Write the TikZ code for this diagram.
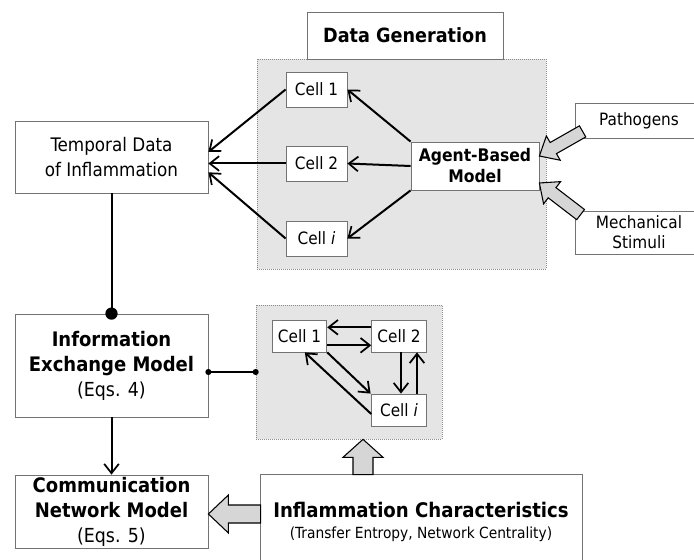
\documentclass[tikz,border=0pt]{standalone}
\usepackage{fontspec}
\setmainfont{DejaVu Sans Condensed}
\usetikzlibrary{arrows.meta,calc}

% block arrow: #1 tail, #2 tip, #3 shaft half width, #4 head half width, #5 head length
\newcommand\blockarrow[5]{%
  \coordinate (ba-neck) at ($(#2)!#5!(#1)$);
  \filldraw[fatarrow] ($(#1)!#3!90:(#2)$) -- ($(ba-neck)!#3!-90:(#1)$)
    -- ($(ba-neck)!#4!-90:(#1)$) -- (#2) -- ($(ba-neck)!#4!90:(#1)$)
    -- ($(ba-neck)!#3!90:(#1)$) -- ($(#1)!#3!-90:(#2)$) -- cycle;}
\newcommand\eqline{\fontsize{14.5}{18.75}\selectfont}

\tikzset{
  box/.style={draw=black!55, line width=0.6pt, fill=white, align=center,
    inner sep=0pt, font=\fontsize{12.75}{18.75}\selectfont},
  cellbox/.style={box, minimum width=45.75pt, minimum height=26.25pt},
  smallcell/.style={box, minimum width=41pt, minimum height=24pt},
  panel/.style={draw=black!45, densely dotted, line width=0.5pt, fill=black!10,
    inner sep=0pt},
  link/.style={line width=1.5pt, -{Straight Barb[length=7pt,width=11pt,line width=1.3pt]}},
  plain/.style={line width=1.5pt},
  fatarrow/.style={draw=black, line width=0.8pt, fill=black!16, line join=miter},
}

\begin{document}
\begin{tikzpicture}[x=0.75pt,y=-0.75pt]
\clip (0,0) rectangle (694,560);
\fill[white] (0,0) rectangle (694,560);

% upper group: data generation
\node[panel, minimum width=216.75pt, minimum height=157.5pt] (panelA) at (401.5,164) {};
\node[box, minimum width=147pt, minimum height=35.25pt, font=\bfseries\fontsize{14.7}{17}\selectfont]
  (datagen) at (405,35.5) {Data Generation};
\node[cellbox] (cellA1) at (316.5,89.5) {Cell 1};
\node[cellbox] (cellA2) at (316.5,163.5) {Cell 2};
\node[cellbox] (cellAi) at (316.5,238.5) {Cell \textit{i}};
\node[box, minimum width=96pt, minimum height=36pt, font=\bfseries\fontsize{13}{15.75}\selectfont]
  (abm) at (475,166) {Agent-Based\\Model};
\node[box, minimum width=96pt, minimum height=26.25pt] (pathogens) at (639,120.5) {Pathogens};
\node[box, minimum width=96pt, minimum height=32.25pt, font=\fontsize{12.75}{15}\selectfont]
  (mech) at (639,232.5) {Mechanical\\Stimuli};
\node[box, minimum width=144.75pt, minimum height=54pt, font=\fontsize{14}{18.75}\selectfont]
  (temporal) at (111.5,157) {Temporal Data\\of Inflammation};

% model boxes on the left
\node[box, minimum width=144.75pt, minimum height=77.25pt, font=\bfseries\fontsize{15}{18.75}\selectfont]
  (iem) at (111.5,365.5) {Information\\Exchange Model\\{\mdseries\eqline (Eqs. 4)}};
\node[box, minimum width=144.75pt, minimum height=54.75pt, font=\bfseries\fontsize{15}{18.75}\selectfont]
  (cnm) at (111.5,511.5) {Communication\\Network Model\\{\mdseries\eqline (Eqs. 5)}};

% lower group: cell network
\node[panel, minimum width=139.5pt, minimum height=100.5pt] (panelB) at (349,372) {};
\node[smallcell] (cellB1) at (299.5,336) {Cell 1};
\node[smallcell] (cellB2) at (399,336) {Cell 2};
\node[smallcell] (cellBi) at (399,410) {Cell \textit{i}};

\node[box, minimum width=241.5pt, minimum height=72pt, font=\bfseries\fontsize{15.1}{16.5}\selectfont]
  (ic) at (421,522) {Inflammation Characteristics\\[-0.5pt]{\mdseries\fontsize{11.5}{13.5}\selectfont (Transfer Entropy, Network Centrality)}};

% agent-based model feeds the cells
\draw[link] (abm.north west) -- (cellA1.east);
\draw[link] (abm.west) -- (cellA2.east);
\draw[link] (abm.south west) -- (cellAi.east);

% cells feed the temporal data
\draw[link] (cellA1.west) -- (temporal.3);
\draw[link] (cellA2.west) -- (temporal.east |- cellA2.west);
\draw[link] (cellAi.west) -- (temporal.-9);

% temporal data to information exchange model
\draw[plain] (temporal.south) -- (iem.north);
\fill (iem.north) circle (4.6pt);

% information exchange model to cell network
\draw[plain] (iem.east |- panelB.west) -- (panelB.west);
\fill (iem.east |- panelB.west) circle (2.3pt);
\fill (panelB.west) circle (2.3pt);

% information exchange model to communication network model
\draw[link] (iem.south) -- (cnm.north);

% edges of the cell network
\draw[link] ([yshift=6.5pt]cellB2.west) -- ([yshift=6.5pt]cellB1.east);
\draw[link] ([yshift=-7pt]cellB1.east) -- ([yshift=-7pt]cellB2.west);
\draw[link] ([xshift=1.5pt]cellB2.south) -- ([xshift=1.5pt]cellBi.north);
\draw[link] ([xshift=13.5pt]cellBi.north) -- ([xshift=13.5pt]cellB2.south);
\draw[link] (cellB1.south east) -- ([xshift=-0.5pt]cellBi.north west);
\draw[link] ([yshift=-3pt]cellBi.west) -- ([xshift=4pt]cellB1.south);

% stimuli acting on the agent-based model
\coordinate (pTail) at ($(pathogens.south west)+(8,-7)$);
\coordinate (pTip) at ($(abm.east)+(0,-10)$);
\blockarrow{pTail}{pTip}{4.8pt}{10.5pt}{12pt}
\coordinate (mTail) at ($(mech.north west)+(6,4)$);
\coordinate (mTip) at ($(abm.east)+(0,17)$);
\blockarrow{mTail}{mTip}{4.8pt}{10.5pt}{12pt}

% characteristics feed the network and the communication model
\coordinate (uTail) at ($(ic.north)+(-58,1)$);
\coordinate (uTip) at (panelB.south -| uTail);
\blockarrow{uTail}{uTip}{7.5pt}{15pt}{13.5pt}
\coordinate (lTail) at ($(ic.west)+(1,-8)$);
\coordinate (lTip) at (cnm.east |- lTail);
\blockarrow{lTail}{lTip}{6.75pt}{14.25pt}{15pt}
\end{tikzpicture}
\end{document}
